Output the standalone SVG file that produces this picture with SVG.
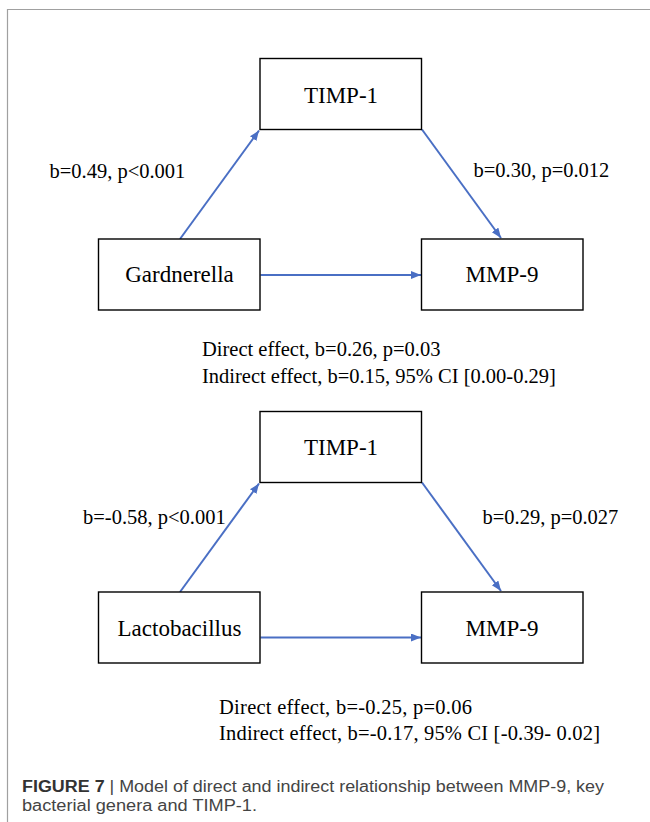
<svg xmlns="http://www.w3.org/2000/svg" width="650" height="822" viewBox="0 0 650 822">
<style>
.box{fill:#fff;stroke:#000;stroke-width:1.4}
.nt{font-family:"Liberation Serif","Times New Roman",serif;font-size:23px;fill:#000;text-anchor:middle}
.lb{font-family:"Liberation Serif","Times New Roman",serif;font-size:20.5px;fill:#000}
.ar{stroke:#4A6FC4;stroke-width:2;fill:none;marker-end:url(#ah)}
.cap{font-family:"Liberation Sans",Arial,sans-serif;font-size:16px;fill:#444}
</style>
<defs>
<marker id="ah" markerUnits="userSpaceOnUse" markerWidth="12" markerHeight="10" refX="10" refY="4" orient="auto">
<path d="M0,0 L10,4 L0,8 Z" fill="#4A6FC4"/>
</marker>
</defs>
<rect width="650" height="822" fill="#fff"/>
<path d="M7.5,822 V9.5 H650" fill="none" stroke="#a0a0a0" stroke-width="1.2"/>

<g id="connectors">
<line class="ar" x1="180" y1="239" x2="259" y2="130.5"/>
<line class="ar" x1="422" y1="129.5" x2="501" y2="238"/>
<line class="ar" x1="260.5" y1="275" x2="421" y2="275"/>
<line class="ar" x1="180" y1="592" x2="259" y2="483.5"/>
<line class="ar" x1="422" y1="482.5" x2="501" y2="591"/>
<line class="ar" x1="260.5" y1="637.5" x2="421" y2="637.5"/>
</g>

<g id="timp1-top"><rect class="box" x="260" y="58.5" width="161.5" height="71"/><text class="nt" x="341" y="102.5">TIMP-1</text></g>
<g id="gardnerella"><rect class="box" x="98.5" y="239" width="161.5" height="71"/><text class="nt" x="179.5" y="282">Gardnerella</text></g>
<g id="mmp9-top"><rect class="box" x="421.5" y="239" width="161.5" height="71"/><text class="nt" x="502" y="282">MMP-9</text></g>

<g id="timp1-bottom"><rect class="box" x="260" y="411.5" width="161.5" height="71"/><text class="nt" x="341" y="455">TIMP-1</text></g>
<g id="lactobacillus"><rect class="box" x="98.5" y="592" width="161.5" height="71"/><text class="nt" x="179.5" y="635.5">Lactobacillus</text></g>
<g id="mmp9-bottom"><rect class="box" x="421.5" y="592" width="161.5" height="71"/><text class="nt" x="502" y="635.5">MMP-9</text></g>

<g id="labels">
<text class="lb" x="49.5" y="178">b=0.49, p&lt;0.001</text>
<text class="lb" x="473.5" y="177">b=0.30, p=0.012</text>
<text class="lb" x="202" y="356">Direct effect, b=0.26, p=0.03</text>
<text class="lb" x="202" y="383">Indirect effect, b=0.15, 95% CI [0.00-0.29]</text>
<text class="lb" x="83" y="524">b=-0.58, p&lt;0.001</text>
<text class="lb" x="482.5" y="524">b=0.29, p=0.027</text>
<text class="lb" x="219" y="714" textLength="253">Direct effect, b=-0.25, p=0.06</text>
<text class="lb" x="219" y="740" textLength="381">Indirect effect, b=-0.17, 95% CI [-0.39- 0.02]</text>
</g>

<g id="caption">
<text class="cap" x="22" y="792" textLength="582" lengthAdjust="spacingAndGlyphs"><tspan font-weight="bold" fill="#333">FIGURE 7</tspan> | Model of direct and indirect relationship between MMP-9, key</text>
<text class="cap" x="22" y="811" textLength="235" lengthAdjust="spacingAndGlyphs">bacterial genera and TIMP-1.</text>
</g>
</svg>
